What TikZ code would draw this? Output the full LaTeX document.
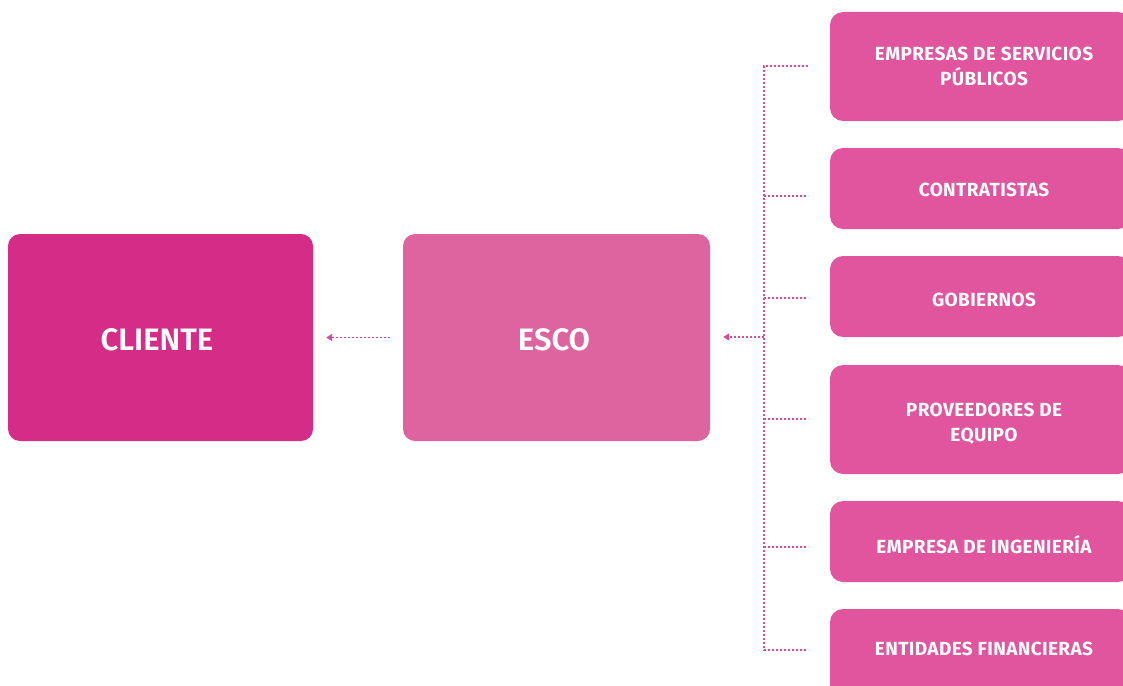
\documentclass[tikz,border=0pt]{standalone}
\usepackage{fontspec}
\setmainfont{Fira Sans}
\usetikzlibrary{arrows.meta}
\definecolor{cliente}{HTML}{D52D87}
\definecolor{esco}{HTML}{DE64A0}
\definecolor{actor}{HTML}{E0559E}
\definecolor{link}{HTML}{D94B95}
\newfontfamily\boxfont{Fira Sans SemiBold}
\newfontfamily\actorfont[LetterSpace=2]{Fira Sans Bold}
\begin{document}
\begin{tikzpicture}[x=1pt,y=-1pt,
  bigbox/.style={rounded corners=12pt, inner sep=0pt, text=white,
    font=\boxfont\fontsize{31}{34}\selectfont},
  actorbox/.style={fill=actor, rounded corners=13pt, inner sep=0pt},
  actortext/.style={text=white, align=center,
    font=\actorfont\fontsize{19}{25}\selectfont},
  dots/.style={link, line width=1.4pt, dash pattern=on 2pt off 2pt},
  tip/.style={-{Triangle[length=6pt,width=7pt]}}]
\useasboundingbox (0,0) rectangle (1123,685);

% main boxes
\node[bigbox, fill=cliente, minimum width=305pt, minimum height=207pt] (cliente) at (160.5,337.5) {};
\node[bigbox, fill=esco, minimum width=307pt, minimum height=207pt] (esco) at (556.5,337.5) {};
\node[bigbox] (clientetext) at (157,340) {CLIENTE};
\node[bigbox] (escotext) at (554,340) {ESCO};

% actor boxes on the right
\path[actorbox] (830,12)  rectangle (1131,121);
\path[actorbox] (830,148) rectangle (1131,229);
\path[actorbox] (830,256) rectangle (1131,337);
\path[actorbox] (830,365) rectangle (1131,474);
\path[actorbox] (830,501) rectangle (1131,582);
\path[actorbox] (830,609) rectangle (1131,700);

\node[actortext] (a1) at (984,66.5)  {EMPRESAS DE SERVICIOS\\PÚBLICOS};
\node[actortext] (a2) at (984,189.5) {CONTRATISTAS};
\node[actortext] (a3) at (984,299.5) {GOBIERNOS};
\node[actortext] (a4) at (984,423.5) {PROVEEDORES DE\\EQUIPO};
\node[actortext] (a5) at (984,544.5) {EMPRESA DE INGENIERÍA};
\node[actortext] (a6) at (984,648.5) {ENTIDADES FINANCIERAS};

% collecting line
\coordinate (b1) at (764,66);
\coordinate (b2) at (764,196);
\coordinate (b3) at (764,298);
\coordinate (b4) at (764,419);
\coordinate (b5) at (764,547);
\coordinate (b6) at (764,650);
\coordinate (bm) at (764,337);
\coordinate (e1) at (808,66);
\coordinate (e2) at (808,196);
\coordinate (e3) at (808,298);
\coordinate (e4) at (808,419);
\coordinate (e5) at (808,547);
\coordinate (e6) at (808,650);

\draw[dots] (e1) -- (b1) -- (b6) -- (e6);
\foreach \i in {2,...,5} \draw[dots] (b\i) -- (e\i);

\draw[dots, tip, shorten >=13pt] (bm) -- (esco.east |- bm);
\draw[dots, tip, shorten <=13pt, shorten >=13pt] (esco.west) -- (cliente.east);
\end{tikzpicture}
\end{document}
